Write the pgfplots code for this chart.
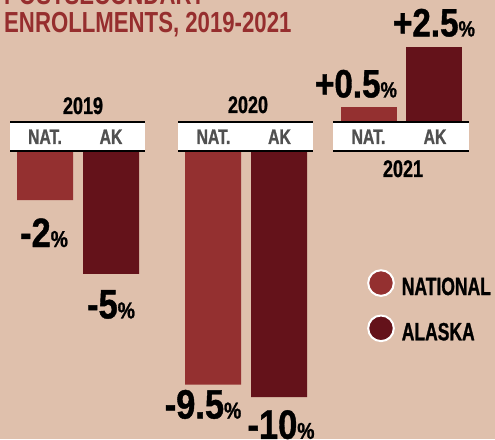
\documentclass[border=0pt]{standalone}
\usepackage{pgfplots}
\pgfplotsset{compat=1.18}
\usepackage{fontspec}
\setmainfont{Liberation Sans}
\newfontfamily\ttlfont[FakeStretch=0.765]{Liberation Sans}
\newfontfamily\hdrfont[FakeStretch=0.75, FakeBold=1]{Liberation Sans Bold}
\newfontfamily\lgdfont[FakeStretch=0.70, FakeBold=1]{Liberation Sans Bold}
\newfontfamily\numfont[FakeStretch=0.84, FakeBold=1]{Liberation Sans Bold}
\definecolor{bgc}{RGB}{223,192,172}
\definecolor{natc}{RGB}{148,48,48}
\definecolor{akc}{RGB}{100,18,26}
\definecolor{ttlc}{RGB}{150,46,46}
\definecolor{hdrc}{RGB}{80,80,80}
\newcommand{\pctA}{{\fontsize{23}{23}\selectfont\%}}
\newcommand{\pctB}{{\fontsize{22}{22}\selectfont\%}}
\pgfplotsset{
  numlab/.style={point meta=explicit symbolic,
    visualization depends on={value \thisrow{dx} \as \mydx},
    visualization depends on={value \thisrow{dy} \as \mydy},
    every node near coord/.append style={inner sep=0pt, text=black, xshift=\mydx pt, yshift=\mydy pt}},
  neglab/.style={numlab, nodes near coords={\pgfplotspointmeta\pctA},
    every node near coord/.append style={anchor=north, font=\numfont\fontsize{41}{41}\selectfont}},
  poslab/.style={numlab, nodes near coords={\pgfplotspointmeta\pctB},
    every node near coord/.append style={anchor=south, font=\numfont\fontsize{39.5}{39.5}\selectfont}},
}
\begin{document}
\begin{tikzpicture}
\useasboundingbox (0,0) rectangle (495pt,439pt);
\fill[bgc] (0,0) rectangle (495pt,439pt);

% negative bars (2019, 2020), baseline under the label boxes
\begin{axis}[at={(0pt,288pt)}, anchor=north west, x=1pt, y=24.6pt,
  xmin=0, xmax=495, ymin=-10.5, ymax=0, hide axis, clip=false, enlargelimits=false,
  legend cell align=left,
  legend style={draw=none, fill=none, at={(0.7414,0.543)}, anchor=north west,
    inner sep=0pt, row sep=16pt, text=black,
    /tikz/every odd column/.append style={column sep=5pt},
    font=\lgdfont\fontsize{25}{25}\selectfont}]
\addplot[ybar, bar width=56pt, bar shift=0pt, fill=natc, draw=none, neglab,
  legend image code/.code={\filldraw[fill=natc, draw=white, line width=2pt] (13.5pt,4pt) circle (12.8pt);}]
  table[x=x, y=y, meta=lab, row sep=\\] {x y lab dx dy\\ 45 -2 -2 -1 -18\\ 213 -9.5 -9.5 -10 -5\\};
\addlegendentry{NATIONAL}
\addplot[ybar, bar width=56pt, bar shift=0pt, fill=akc, draw=none, neglab,
  legend image code/.code={\filldraw[fill=akc, draw=white, line width=2pt] (13.5pt,4pt) circle (12.8pt);}]
  table[x=x, y=y, meta=lab, row sep=\\] {x y lab dx dy\\ 111 -5 -5 0 -16\\ 279 -10 -10 2 -13\\};
\addlegendentry{ALASKA}
\end{axis}

% positive bars (2021), baseline above the label box
\begin{axis}[at={(0pt,317pt)}, anchor=south west, x=1pt, y=30pt,
  xmin=0, xmax=495, ymin=0, ymax=2.6, hide axis, clip=false, enlargelimits=false]
\addplot[ybar, bar width=56pt, bar shift=0pt, fill=natc, draw=none, poslab]
  table[x=x, y=y, meta=lab, row sep=\\] {x y lab dx dy\\ 369 0.5 +0.5 -13 9\\};
\addplot[ybar, bar width=56pt, bar shift=0pt, fill=akc, draw=none, poslab]
  table[x=x, y=y, meta=lab, row sep=\\] {x y lab dx dy\\ 434 2.5 +2.5 0 10\\};
\end{axis}

\begin{scope}[x=1pt, y=-1pt, yshift=439pt]
  % title
  \node[anchor=base west, inner sep=0pt, text=ttlc, font=\ttlfont\bfseries\fontsize{29}{29}\selectfont] at (4,5) {POSTSECONDARY};
  \node[anchor=base west, inner sep=0pt, text=ttlc, font=\ttlfont\bfseries\fontsize{29}{29}\selectfont] at (4,33) {ENROLLMENTS, 2019-2021};
  % label boxes
  \foreach \xa/\xb in {10/145, 178/313, 333/469} {
    \fill[white] (\xa,122) rectangle (\xb,151);
    \draw[black, line width=2.4pt] (\xa,122.2) -- (\xb,122.2);
    \draw[black, line width=2.4pt] (\xa,151.2) -- (\xb,151.2);
  }
  \foreach \xc/\txt in {45/NAT., 111/AK, 213.5/NAT., 279.5/AK, 368.5/NAT., 435/AK} {
    \node[anchor=base, inner sep=0pt, text=hdrc, font=\hdrfont\fontsize{21}{21}\selectfont] at (\xc,144) {\txt};
  }
  \node[anchor=base, inner sep=0pt, font=\hdrfont\fontsize{24}{24}\selectfont] at (83,114) {2019};
  \node[anchor=base, inner sep=0pt, font=\hdrfont\fontsize{24}{24}\selectfont] at (248,113) {2020};
  \node[anchor=base, inner sep=0pt, font=\hdrfont\fontsize{24}{24}\selectfont] at (403,177) {2021};
\end{scope}
\end{tikzpicture}
\end{document}
